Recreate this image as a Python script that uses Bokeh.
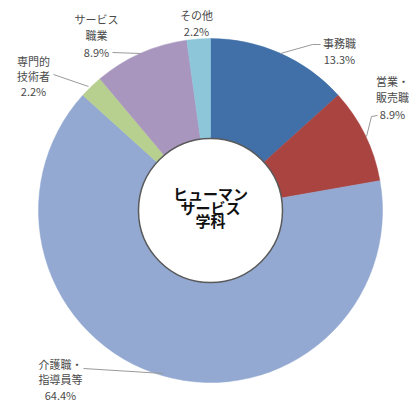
import numpy as np
from bokeh.plotting import figure
from bokeh.models import Range1d, ColumnDataSource
from bokeh.core.properties import value
from bokeh.embed import file_html
from bokeh.resources import INLINE

# ---- data ----
categories = ["事務職", "営業・販売職", "介護職・指導員等", "専門的技術者", "サービス職業", "その他"]
label_lines = [["事務職"], ["営業・", "販売職"], ["介護職・", "指導員等"], ["専門的", "技術者"], ["サービス", "職業"], ["その他"]]
shares = [13.3, 8.9, 64.4, 2.2, 8.9, 2.2]
center_title = ["ヒューマン", "サービス", "学科"]

# ---- style / layout ----
colors = ["#4170a8", "#a94440", "#93a9d2", "#b7cf8f", "#a896be", "#8dc5d9"]
CX, CY = 210, -210
R_OUT, R_IN = 172, 72
FONT = value("Noto Sans CJK JP")
# label anchor (x, top-line y in image px) for each category
label_pos = [(339, 42), (392, 80), (60, 363), (33, 60), (96, 18), (196, 14)]
line_gaps = [16, 16.5, 15.5, 15, 16.5, 16]
# leader lines (image px), per category; None = no leader
leaders = [
    [(280, 53), (312, 44), (320, 44)],
    [(366, 136), (371, 116), (377, 115)],
    [(83, 368), (163, 373)],
    [(53, 74), (88, 86)],
    [(112, 52), (140, 53)],
    None,
]

W, H = 409, 404
p = figure(width=W, height=H, output_backend="svg", toolbar_location=None,
           x_range=Range1d(0, W), y_range=Range1d(-H, 0),
           min_border=0, outline_line_color=None)
p.axis.visible = False
p.grid.visible = False
p.background_fill_color = "white"
p.border_fill_color = "white"

vals = np.array(shares, dtype=float)
frac = vals / vals.sum()
cum = np.concatenate([[0], np.cumsum(frac)])
starts = np.pi / 2 - cum[:-1] * 2 * np.pi
ends = np.pi / 2 - cum[1:] * 2 * np.pi

src = ColumnDataSource(dict(x=[CX] * len(vals), y=[CY] * len(vals),
                            start=starts, end=ends, color=colors, cat=categories))
p.annular_wedge(x="x", y="y", inner_radius=R_IN, outer_radius=R_OUT,
                start_angle="start", end_angle="end", direction="clock",
                fill_color="color", line_color="color", line_width=0.5, source=src)

# inner hole
p.circle(x=[CX], y=[CY], radius=R_IN, fill_color="white",
         line_color="#5a5a5a", line_width=1.5)

# leaders
for ld in leaders:
    if ld is None:
        continue
    p.line([a for a, b in ld], [-b for a, b in ld], line_color="#9a9a9a", line_width=1)

# labels
for (lx, ly), lines, sh, gap in zip(label_pos, label_lines, shares, line_gaps):
    texts = lines + [f"{sh:.1f}%"]
    ys = [-(ly + i * gap) for i in range(len(texts))]
    p.text(x=[lx] * len(texts), y=ys, text=texts, text_font=FONT,
           text_font_size="11px", text_color="#4a4a4a",
           text_align="center", text_baseline="middle")

# center title
cys = [-193, -207, -220]
p.text(x=[CX] * 3, y=cys, text=center_title, text_font=FONT,
       text_font_size="15px", text_font_style="bold", text_color="#111111",
       text_align="center", text_baseline="middle")

open("out.html", "w").write(file_html(p, INLINE))
